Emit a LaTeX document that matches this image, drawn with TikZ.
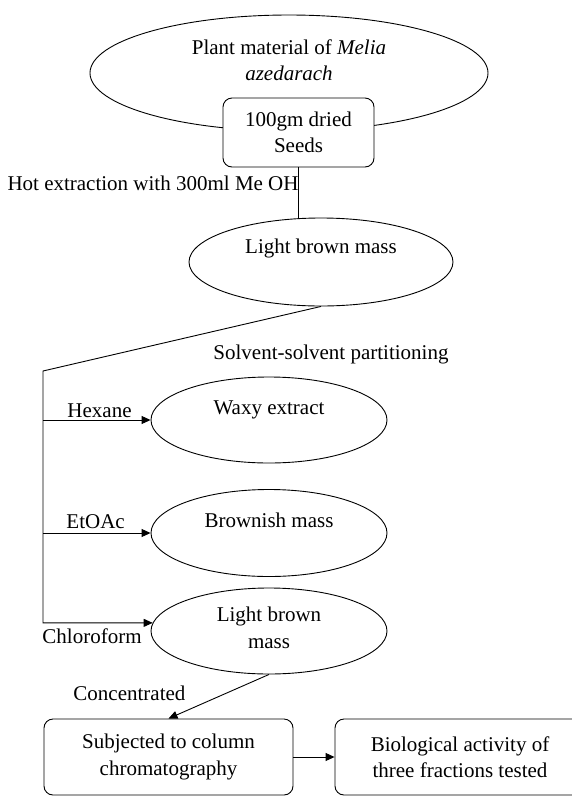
\documentclass[tikz,border=0pt]{standalone}
\usepackage{fontspec}
\setmainfont{Liberation Serif}
\usetikzlibrary{%
  arrows.meta,% Triangle tips
  shapes,% wg. ellipse
  positioning%
}

\begin{document}
\begin{tikzpicture}[x=1pt,y=-1pt,
    font=\fontsize{21}{26.5}\selectfont,
    line width=0.9pt,
    >={Triangle[length=9pt,width=8pt]},
    Blob/.style={ellipse, draw, inner sep=0pt},
    Box/.style={rectangle, draw, fill=white, rounded corners=9pt,
      align=center, inner sep=0pt},
    Note/.style={inner sep=0pt}]
  \useasboundingbox (0,0) rectangle (572,796);
  % extraction
  \node [Blob, minimum width=398pt, minimum height=116pt,
    label={[yshift=13pt,align=center]center:Plant material of \textit{Melia}\\\textit{azedarach}}] (Plant) at (289,73) {};
  \node [Box, minimum width=151pt, minimum height=69pt] (Seeds) at (298.5,132.5) {100gm dried\\Seeds};
  \node [Blob, minimum width=264pt, minimum height=88pt,
    label={[yshift=14pt]center:Light brown mass}] (Crude) at (321,262) {};
  \draw (Seeds.south) -- (Seeds.south |- Crude.north);
  \node [Note, anchor=base east] (Hot) at (299,190) {Hot extraction with 300ml Me OH};
  % partitioning
  \coordinate (Split) at (43,371);
  \node [Blob, minimum width=236pt, minimum height=86pt,
    label={[yshift=10pt]center:Waxy extract}] (Waxy) at (269,420) {};
  \node [Blob, minimum width=236pt, minimum height=87pt,
    label={[yshift=13pt]center:Brownish mass}] (Brownish) at (269,533) {};
  \node [Blob, minimum width=236pt, minimum height=86pt,
    label={[yshift=3pt,align=center]center:Light brown\\mass}] (Chloro) at (269,631) {};
  \draw [->] (Crude.south) -- (Split) -- (Split |- Chloro.176) -- (Chloro.176);
  \draw [->] (Split |- Waxy.west) -- (Waxy.west);
  \draw [->] (Split |- Brownish.west) -- (Brownish.west);
  \node [Note, anchor=base west] (Partition) at (213,359) {Solvent-solvent partitioning};
  \node [Note, anchor=base west] (Hexane) at (67,417) {Hexane};
  \node [Note, anchor=base west] (EtOAc) at (66,528) {EtOAc};
  \node [Note, anchor=base west] (Chloroform) at (42,643) {Chloroform};
  \node [Note, anchor=base west] (Concentrated) at (73,700) {Concentrated};
  % column
  \node [Box, minimum width=249pt, minimum height=76pt] (Column) at (168.5,757) {Subjected to column\\chromatography};
  \node [Box, minimum width=250pt, minimum height=76pt] (Activity) at (460,757) {Biological activity of\\three fractions tested};
  \draw [->] (Chloro.south) -- (Column.north);
  \draw [->] (Column) -- (Activity);
\end{tikzpicture}
\end{document}
